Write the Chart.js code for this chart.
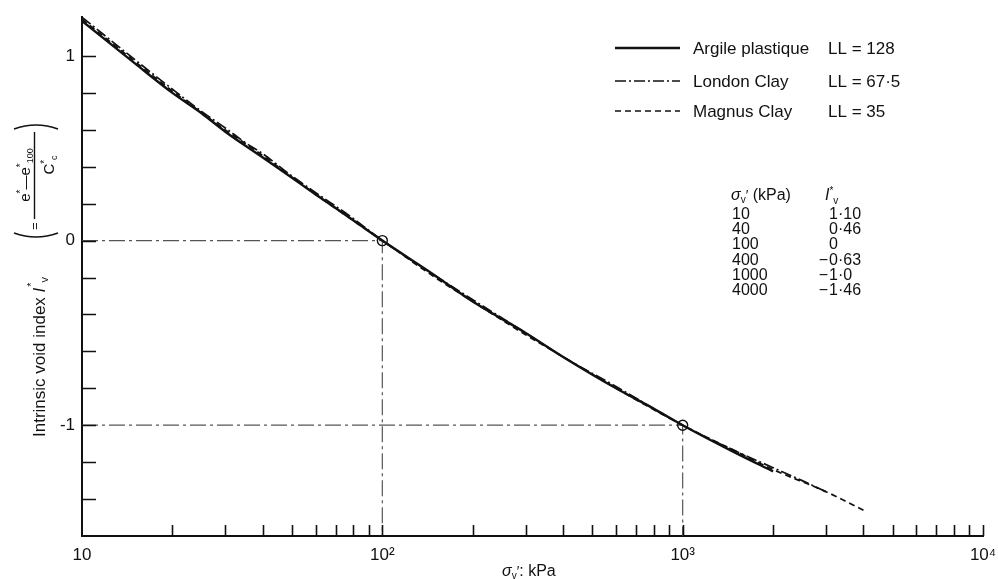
<!DOCTYPE html>
<html>
<head>
<meta charset="utf-8">
<script src="https://cdn.jsdelivr.net/npm/chart.js@4.4.1/dist/chart.umd.min.js"></script>
<style>
  html, body { margin: 0; padding: 0; background: #fff; }
</style>
</head>
<body>
<canvas id="chart" width="998" height="579"></canvas>
<script>
// sigma'v (kPa) and intrinsic void index for each clay
const argileStress = [10, 15, 20, 25, 30, 40, 50, 60, 80, 100, 150, 200, 300, 400, 600, 800, 1000, 1500, 2000]
const argileIv = [1.19, 0.96, 0.80, 0.69, 0.59, 0.45, 0.34, 0.25, 0.11, 0.0, -0.19, -0.33, -0.50, -0.63, -0.80, -0.91, -1.0, -1.15, -1.25]

const londonStress = [10, 15, 20, 25, 30, 35, 40, 50, 60, 80, 100, 150, 200, 300, 400, 600, 1000, 1500, 2000, 2500, 3000]
const londonIv = [1.21, 0.98, 0.82, 0.70, 0.61, 0.53, 0.47, 0.35, 0.26, 0.12, 0.0, -0.19, -0.32, -0.50, -0.63, -0.79, -1.0, -1.14, -1.23, -1.30, -1.36]

const magnusStress = [10, 15, 20, 30, 40, 60, 100, 150, 200, 300, 400, 600, 1000, 1500, 2000, 3000, 4000]
const magnusIv = [1.20, 0.97, 0.81, 0.60, 0.46, 0.25, 0.0, -0.20, -0.33, -0.51, -0.63, -0.80, -1.0, -1.14, -1.24, -1.36, -1.46]

const seriesNames = ['Argile plastique', 'London Clay', 'Magnus Clay']
const liquidLimits = ['LL = 128', 'LL = 67·5', 'LL = 35']

// reference points marked with circles
const markStress = [100, 1000]
const markIv = [0, -1]

// small table of I*v values
const tableStress = ['10', '40', '100', '400', '1000', '4000']
const tableIv = ['1·10', '0·46', '0', '−0·63', '−1·0', '−1·46']

// axis ticks
const xDecades = [10, 100, 1000, 10000]
const xDecadeLabels = ['10', '10²', '10³', '10⁴']
const yTicks = [-1.4, -1.2, -1.0, -0.8, -0.6, -0.4, -0.2, 0, 0.2, 0.4, 0.6, 0.8, 1.0]
const yMin = -1.6
const yMax = 1.21

const FONT = '"Liberation Sans", Arial, Helvetica, sans-serif'
const INK = '#111'

Chart.defaults.font.family = FONT
Chart.defaults.color = INK

const pts = (xs, ys) => xs.map((x, i) => ({ x, y: ys[i] }))

// minor + major tick positions on the log axis
const xTickValues = []
xDecades.forEach((d, i) => {
  if (i === xDecades.length - 1) { xTickValues.push(d); return }
  for (let k = 1; k < 10; k++) xTickValues.push(d * k)
})

// draws a run of [text, size, dy, style] pieces from x along the baseline
function rich (ctx, parts, x, y, align) {
  const fontOf = p => `${p[3] || ''} ${p[1]}px ${FONT}`
  let total = 0
  parts.forEach(p => { ctx.font = fontOf(p); total += ctx.measureText(p[0]).width })
  let cx = align === 'center' ? x - total / 2 : x
  ctx.textAlign = 'left'
  parts.forEach(p => {
    ctx.font = fontOf(p)
    ctx.fillText(p[0], cx, y + (p[2] || 0))
    cx += ctx.measureText(p[0]).width
  })
  return total
}

const inwardTicks = {
  id: 'inwardTicks',
  afterDatasetsDraw (chart) {
    const { ctx, chartArea: a, scales: { x, y } } = chart
    ctx.save()
    ctx.strokeStyle = INK
    ctx.lineWidth = 1.6
    ctx.beginPath()
    x.ticks.forEach(t => {
      if (t.value === x.min) return
      const px = Math.round(x.getPixelForValue(t.value)) + 0.5
      ctx.moveTo(px, a.bottom)
      ctx.lineTo(px, a.bottom - 11)
    })
    y.ticks.forEach(t => {
      const py = Math.round(y.getPixelForValue(t.value)) + 0.5
      ctx.moveTo(a.left, py)
      ctx.lineTo(a.left + 14, py)
    })
    ctx.stroke()
    ctx.restore()
  }
}

const annotations = {
  id: 'annotations',
  afterDraw (chart) {
    const { ctx, chartArea: a } = chart
    ctx.save()
    ctx.fillStyle = INK
    ctx.strokeStyle = INK
    ctx.textBaseline = 'alphabetic'

    // legend: sample line, name, liquid limit
    const rows = [48, 81, 111]
    chart.data.datasets.slice(0, 3).forEach((ds, i) => {
      ctx.save()
      ctx.lineWidth = ds.borderWidth
      ctx.setLineDash(ds.borderDash || [])
      ctx.beginPath()
      ctx.moveTo(a.left + 533, rows[i])
      ctx.lineTo(a.left + 598, rows[i])
      ctx.stroke()
      ctx.restore()
      ctx.font = `17px ${FONT}`
      ctx.textAlign = 'left'
      ctx.fillText(seriesNames[i], a.left + 611, rows[i] + 6)
      ctx.fillText(liquidLimits[i], a.left + 746, rows[i] + 6)
    })

    // table
    const tx1 = a.left + 650
    const tx2 = a.left + 747
    rich(ctx, [['σ', 16, 0, 'italic'], ['v', 10, 3, ''], ['′', 14, 0, ''], [' (kPa)', 16, 0, '']], tx1 - 1, 200)
    rich(ctx, [['I', 16, 0, 'italic'], ['*', 10, -6, ''], ['v', 10, 4, '']], tx2 - 4, 200)
    ctx.font = `16px ${FONT}`
    tableStress.forEach((s, i) => {
      const yy = 219 + i * 15.2
      ctx.textAlign = 'left'
      ctx.fillText(s, tx1, yy)
      const v = tableIv[i]
      if (v.startsWith('−')) {
        ctx.textAlign = 'right'
        ctx.fillText('−', tx2 - 1, yy)
        ctx.textAlign = 'left'
        ctx.fillText(v.slice(1), tx2, yy)
      } else {
        ctx.fillText(v, tx2, yy)
      }
    })

    // x axis title
    rich(ctx, [['σ', 16, 0, 'italic'], ['v', 10, 3, ''], ['′', 14, 0, ''], [': kPa', 16, 0, '']], 502, 576)

    // y axis title, rotated, with the defining fraction
    ctx.translate(45, 437)
    ctx.rotate(-Math.PI / 2)
    const u = rich(ctx, [['Intrinsic void index ', 17, 0, ''], ['I', 17, 0, 'italic']], 0, 0)
    rich(ctx, [['*', 11, -10, ''], ['v', 11, 3, '']], u + 1, 0)

    ctx.lineWidth = 1.4
    // opening and closing brackets
    ctx.beginPath()
    ctx.moveTo(204, -31); ctx.quadraticCurveTo(196, -9, 204, 13)
    ctx.moveTo(308, -31); ctx.quadraticCurveTo(316, -9, 308, 13)
    ctx.stroke()
    rich(ctx, [['=', 13, 0, '']], 207, -6)
    // fraction bar
    ctx.beginPath()
    ctx.moveTo(218, -10.5); ctx.lineTo(305, -10.5)
    ctx.stroke()
    rich(ctx, [['e', 15, 0, ''], ['*', 10, -6, ''], ['—', 14, 0, ''], ['e', 15, 0, ''], ['*', 10, -6, ''], ['100', 9, 3, '']], 262, -15, 'center')
    rich(ctx, [['C', 15, 0, ''], ['*', 10, -6, ''], ['c', 9, 3, '']], 272, 9, 'center')
    ctx.restore()
  }
}

const guideStyle = {
  borderColor: '#555',
  borderWidth: 1.2,
  borderDash: [16, 4, 3, 4],
  pointRadius: 0,
  fill: false,
  tension: 0
}

new Chart(document.getElementById('chart'), {
  type: 'line',
  data: {
    datasets: [
      {
        label: seriesNames[0],
        data: pts(argileStress, argileIv),
        borderColor: INK,
        borderWidth: 2.4,
        pointRadius: 0,
        cubicInterpolationMode: 'monotone'
      },
      {
        label: seriesNames[1],
        data: pts(londonStress, londonIv),
        borderColor: INK,
        borderWidth: 1.7,
        borderDash: [11, 3, 2, 3],
        pointRadius: 0,
        cubicInterpolationMode: 'monotone'
      },
      {
        label: seriesNames[2],
        data: pts(magnusStress, magnusIv),
        borderColor: INK,
        borderWidth: 1.7,
        borderDash: [6, 4],
        pointRadius: 0,
        cubicInterpolationMode: 'monotone'
      },
      {
        label: 'marks',
        data: pts(markStress, markIv),
        showLine: false,
        pointRadius: 5,
        pointBorderWidth: 1.4,
        pointBorderColor: INK,
        pointBackgroundColor: 'rgba(0,0,0,0)'
      },
      {
        label: 'guide100',
        data: pts([xDecades[0], markStress[0], markStress[0]], [markIv[0], markIv[0], yMin]),
        ...guideStyle
      },
      {
        label: 'guide1000',
        data: pts([xDecades[0], markStress[1], markStress[1]], [markIv[1], markIv[1], yMin]),
        ...guideStyle
      }
    ]
  },
  options: {
    responsive: false,
    animation: false,
    events: [],
    layout: { padding: { top: 14, right: 15, left: 0, bottom: 0 } },
    plugins: { legend: { display: false }, tooltip: { enabled: false } },
    scales: {
      x: {
        type: 'logarithmic',
        min: 10,
        max: 10000,
        afterBuildTicks: scale => { scale.ticks = xTickValues.map(value => ({ value })) },
        afterFit: scale => { scale.height = 43; scale.paddingRight = 0; scale.paddingLeft = 0 },
        ticks: {
          autoSkip: false,
          maxRotation: 0,
          padding: 9,
          font: { size: 17 },
          color: INK,
          callback: value => {
            const i = xDecades.indexOf(value)
            return i >= 0 ? xDecadeLabels[i] : ''
          }
        },
        grid: { display: true, drawOnChartArea: false, drawTicks: false },
        border: { display: true, color: INK, width: 2 }
      },
      y: {
        type: 'linear',
        min: yMin,
        max: yMax,
        afterBuildTicks: scale => { scale.ticks = yTicks.map(value => ({ value })) },
        afterFit: scale => { scale.width = 82 },
        ticks: {
          autoSkip: false,
          padding: 7,
          font: { size: 17 },
          color: INK,
          callback: value => Math.abs(value - Math.round(value)) < 1e-9 ? String(Math.round(value)) : ''
        },
        grid: { display: true, drawOnChartArea: false, drawTicks: false },
        border: { display: true, color: INK, width: 2 }
      }
    }
  },
  plugins: [inwardTicks, annotations]
})
</script>
</body>
</html>
